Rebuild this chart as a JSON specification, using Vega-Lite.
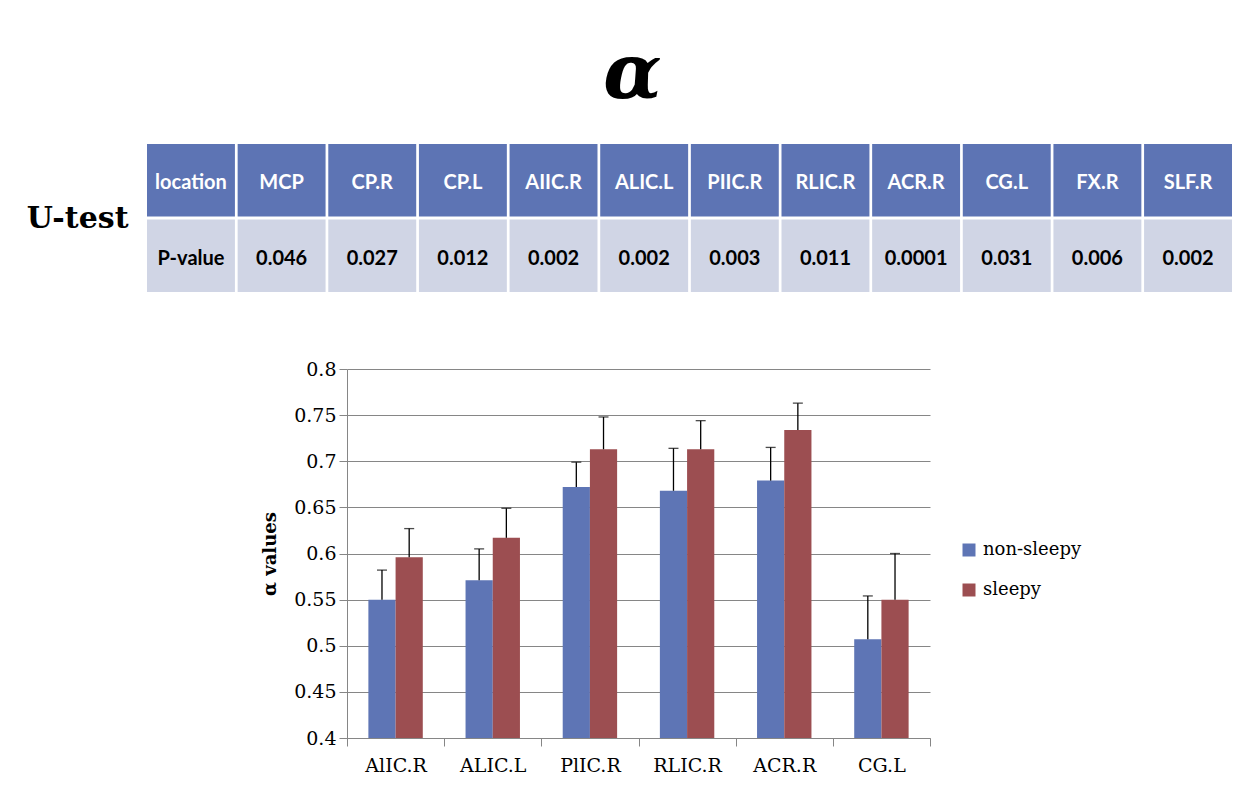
{
  "$schema": "https://vega.github.io/schema/vega-lite/v6.json",
  "autosize": {"type": "none"},
  "padding": {"left": 147, "top": 144, "right": 1087, "bottom": 651},
  "background": "white",
  "config": {"view": {"stroke": null}},
  "bounds": "flush",
  "spacing": 77,
  "resolve": {"scale": {"color": "independent"}, "legend": {"color": "independent"}},
  "vconcat": [
    {
      "width": 1085,
      "height": 148,
      "title": {
        "text": "α",
        "anchor": "middle",
        "frame": "group",
        "dx": -57,
        "offset": 30,
        "font": "DejaVu Serif",
        "fontSize": 76,
        "fontWeight": "bold",
        "fontStyle": "italic",
        "color": "black"
      },
      "data": {
        "values": [
          {"column": "location", "header": "location", "value": "P-value"},
          {"column": "MCP", "header": "MCP", "value": "0.046"},
          {"column": "CP.R", "header": "CP.R", "value": "0.027"},
          {"column": "CP.L", "header": "CP.L", "value": "0.012"},
          {"column": "AIIC.R", "header": "AIIC.R", "value": "0.002"},
          {"column": "ALIC.L", "header": "ALIC.L", "value": "0.002"},
          {"column": "PIIC.R", "header": "PIIC.R", "value": "0.003"},
          {"column": "RLIC.R", "header": "RLIC.R", "value": "0.011"},
          {"column": "ACR.R", "header": "ACR.R", "value": "0.0001"},
          {"column": "CG.L", "header": "CG.L", "value": "0.031"},
          {"column": "FX.R", "header": "FX.R", "value": "0.006"},
          {"column": "SLF.R", "header": "SLF.R", "value": "0.002"}
        ]
      },
      "transform": [{"fold": ["header", "value"], "as": ["row", "label"]}],
      "encoding": {
        "x": {
          "field": "column",
          "type": "nominal",
          "sort": null,
          "scale": {"paddingInner": 0.03, "paddingOuter": 0},
          "axis": null
        },
        "y": {
          "field": "row",
          "type": "nominal",
          "sort": ["header", "value"],
          "scale": {"paddingInner": 0.04, "paddingOuter": 0},
          "axis": {
            "title": "U-test",
            "labels": false,
            "ticks": false,
            "domain": false,
            "grid": false,
            "titleAngle": 0,
            "titleAlign": "right",
            "titleBaseline": "middle",
            "titleX": -19,
            "titleY": 74,
            "titleFont": "DejaVu Serif",
            "titleFontSize": 30,
            "titleFontWeight": "bold",
            "titleColor": "black"
          }
        }
      },
      "layer": [
        {
          "mark": {"type": "rect"},
          "encoding": {
            "color": {
              "field": "row",
              "type": "nominal",
              "scale": {"domain": ["header", "value"], "range": ["#5D74B4", "#D0D5E5"]},
              "legend": null
            }
          }
        },
        {
          "mark": {"type": "text", "font": "Lato", "fontSize": 20, "fontWeight": "bold", "dy": 3},
          "encoding": {
            "text": {"field": "label", "type": "nominal"},
            "color": {
              "condition": {"test": "datum.row === 'header'", "value": "white"},
              "value": "black"
            }
          }
        }
      ]
    },
    {
      "bounds": "flush",
      "spacing": 20,
      "hconcat": [
        {
          "width": 180,
          "height": 10,
          "data": {"values": []},
          "mark": "point"
        },
        {
          "width": 583,
          "height": 369,
          "data": {
            "values": [
              {"region": "AlIC.R", "group": "non-sleepy", "value": 0.55, "upper": 0.582},
              {"region": "AlIC.R", "group": "sleepy", "value": 0.596, "upper": 0.627},
              {"region": "ALIC.L", "group": "non-sleepy", "value": 0.571, "upper": 0.605},
              {"region": "ALIC.L", "group": "sleepy", "value": 0.617, "upper": 0.649},
              {"region": "PlIC.R", "group": "non-sleepy", "value": 0.672, "upper": 0.699},
              {"region": "PlIC.R", "group": "sleepy", "value": 0.713, "upper": 0.748},
              {"region": "RLIC.R", "group": "non-sleepy", "value": 0.668, "upper": 0.714},
              {"region": "RLIC.R", "group": "sleepy", "value": 0.713, "upper": 0.744},
              {"region": "ACR.R", "group": "non-sleepy", "value": 0.679, "upper": 0.715},
              {"region": "ACR.R", "group": "sleepy", "value": 0.734, "upper": 0.763},
              {"region": "CG.L", "group": "non-sleepy", "value": 0.507, "upper": 0.554},
              {"region": "CG.L", "group": "sleepy", "value": 0.55, "upper": 0.6}
            ]
          },
          "encoding": {
            "x": {
              "field": "region",
              "type": "nominal",
              "sort": null,
              "scale": {"paddingInner": 0, "paddingOuter": 0},
              "axis": {
                "title": null,
                "labelAngle": 0,
                "labelFont": "DejaVu Serif",
                "labelFontSize": 19,
                "labelColor": "black",
                "tickBand": "extent",
                "tickColor": "#868686",
                "tickSize": 8,
                "domainColor": "#868686",
                "labelPadding": 10
              }
            },
            "xOffset": {
              "field": "group",
              "type": "nominal",
              "sort": ["non-sleepy", "sleepy"],
              "scale": {"paddingInner": 0, "paddingOuter": 0.786}
            }
          },
          "layer": [
            {
              "mark": {"type": "bar"},
              "encoding": {
                "y": {
                  "field": "value",
                  "type": "quantitative",
                  "title": "α values",
                  "scale": {"domain": [0.4, 0.8], "zero": false, "nice": false},
                  "axis": {
                    "values": [0.4, 0.45, 0.5, 0.55, 0.6, 0.65, 0.7, 0.75, 0.8],
                    "format": "~g",
                    "grid": true,
                    "gridColor": "#868686",
                    "domainColor": "#868686",
                    "tickColor": "#868686",
                    "tickSize": 8,
                    "labelFont": "DejaVu Serif",
                    "labelFontSize": 19,
                    "labelColor": "black",
                    "labelPadding": 3,
                    "titleFont": "DejaVu Serif",
                    "titleFontSize": 18,
                    "titleFontWeight": "bold",
                    "titleColor": "black",
                    "titlePadding": 14
                  }
                },
                "y2": {"datum": 0.4},
                "color": {
                  "field": "group",
                  "type": "nominal",
                  "sort": ["non-sleepy", "sleepy"],
                  "scale": {"range": ["#5E75B5", "#9C4E51"]},
                  "legend": {
                    "title": null,
                    "orient": "none",
                    "legendX": 813,
                    "legendY": 172,
                    "padding": 0,
                    "symbolType": "square",
                    "symbolSize": 169,
                    "symbolStrokeWidth": 0,
                    "labelFont": "DejaVu Serif",
                    "labelFontSize": 18,
                    "labelColor": "black",
                    "labelOffset": 5,
                    "rowPadding": 22
                  }
                }
              }
            },
            {
              "mark": {"type": "rule", "color": "black", "strokeWidth": 1.3},
              "encoding": {
                "y": {"field": "value", "type": "quantitative", "title": "α values"},
                "y2": {"field": "upper"}
              }
            },
            {
              "mark": {"type": "tick", "color": "black", "thickness": 1.3, "size": 10},
              "encoding": {
                "y": {"field": "upper", "type": "quantitative", "title": "α values"}
              }
            }
          ]
        }
      ]
    }
  ]
}
